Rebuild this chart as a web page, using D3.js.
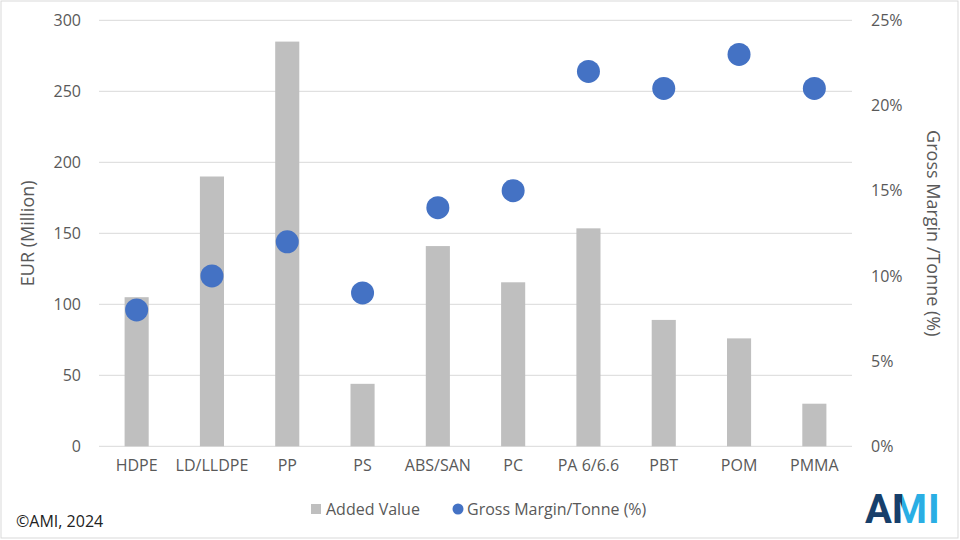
<!DOCTYPE html>
<html><head><meta charset="utf-8">
<script src="https://cdn.jsdelivr.net/npm/d3@7"></script>
<style>body{margin:0;background:#fff}svg{display:block;font-family:"Open Sans",sans-serif}</style>
</head><body>
<svg id="c" width="960" height="540"></svg>
<script>
const categories = ["HDPE","LD/LLDPE","PP","PS","ABS/SAN","PC","PA 6/6.6","PBT","POM","PMMA"];
const addedValue = [105,190,285,44,141,115.5,153.5,89,76,30];
const grossMargin = [0.08,0.10,0.12,0.09,0.14,0.15,0.22,0.21,0.23,0.21];
const leftTicks = [0,50,100,150,200,250,300];
const rightTicks = [0,0.05,0.10,0.15,0.20,0.25];

const svg = d3.select("#c");
const W=960,H=540;
const m={l:99,r:852,t:20.3,b:446.3};
const textColor="#595959";

svg.append("rect").attr("x",1).attr("y",1).attr("width",W-3).attr("height",H-3)
  .attr("fill","#fff").attr("stroke","#d9d9d9").attr("stroke-width",1);

const x=d3.scaleBand().domain(categories).range([m.l,m.r]).paddingInner(0.68).paddingOuter(0.34);
const yL=d3.scaleLinear().domain([0,300]).range([m.b,m.t]);
const yR=d3.scaleLinear().domain([0,0.25]).range([m.b,m.t]);

// gridlines
svg.append("g").selectAll("line").data(leftTicks).join("line")
  .attr("x1",m.l).attr("x2",m.r).attr("y1",d=>yL(d)).attr("y2",d=>yL(d))
  .attr("stroke","#d9d9d9").attr("stroke-width",1);

// left axis
const gl=svg.append("g").attr("transform",`translate(${m.l},0)`)
  .call(d3.axisLeft(yL).tickValues(leftTicks).tickSize(0).tickPadding(18));
gl.select(".domain").remove();
gl.selectAll("text").attr("fill",textColor).style("font-size","16px").style("font-family","'Open Sans',sans-serif");

// right axis
const gr=svg.append("g").attr("transform",`translate(${m.r},0)`)
  .call(d3.axisRight(yR).tickValues(rightTicks).tickSize(0).tickPadding(19).tickFormat(d3.format(".0%")));
gr.select(".domain").remove();
gr.selectAll("text").attr("fill",textColor).style("font-size","16px").style("font-family","'Open Sans',sans-serif");

// bottom axis
const gb=svg.append("g").attr("transform",`translate(0,${m.b})`)
  .call(d3.axisBottom(x).tickSize(0).tickPadding(13));
gb.select(".domain").remove();
gb.selectAll("text").attr("fill",textColor).style("font-size","16px").style("font-family","'Open Sans',sans-serif");

// bars
svg.append("g").selectAll("rect").data(categories).join("rect")
  .attr("x",d=>x(d)).attr("width",x.bandwidth())
  .attr("y",(d,i)=>yL(addedValue[i])).attr("height",(d,i)=>m.b-yL(addedValue[i]))
  .attr("fill","#bfbfbf");

// dots
svg.append("g").selectAll("circle").data(categories).join("circle")
  .attr("cx",d=>x(d)+x.bandwidth()/2).attr("cy",(d,i)=>yR(grossMargin[i]))
  .attr("r",11.5).attr("fill","#4472c4");

// axis titles
svg.append("text").attr("transform",`translate(34,${(m.t+m.b)/2}) rotate(-90)`)
  .attr("text-anchor","middle").attr("fill",textColor).style("font-size","18px").text("EUR (Million)");
svg.append("text").attr("transform",`translate(927,${(m.t+m.b)/2}) rotate(90)`)
  .attr("text-anchor","middle").attr("fill",textColor).style("font-size","18px").text("Gross Margin /Tonne (%)");

// legend
const lg=svg.append("g");
lg.append("rect").attr("x",311).attr("y",504).attr("width",10).attr("height",10).attr("fill","#bfbfbf");
lg.append("text").attr("x",326).attr("y",515).attr("fill",textColor).style("font-size","16px").text("Added Value");
lg.append("circle").attr("cx",458).attr("cy",509).attr("r",5.5).attr("fill","#4472c4");
lg.append("text").attr("x",467).attr("y",515).attr("fill",textColor).style("font-size","16px").text("Gross Margin/Tonne (%)");

// copyright
svg.append("text").attr("x",16).attr("y",527).attr("fill","#222").style("font-size","16px").text("©AMI, 2024");

// logo
const defs=svg.append("defs");
const grad=defs.append("linearGradient").attr("id","mg").attr("x1","0").attr("x2","1").attr("y1","0").attr("y2","0");
grad.append("stop").attr("offset","0.5").attr("stop-color","#173f6b");
grad.append("stop").attr("offset","0.5").attr("stop-color","#2aaee4");
const logo=svg.append("text").attr("x",865).attr("y",523)
  .style("font-family","Roboto,sans-serif").style("font-weight","700").style("font-size","40px");
logo.append("tspan").attr("fill","#173f6b").text("A");
logo.append("tspan").attr("fill","url(#mg)").text("M");
logo.append("tspan").attr("fill","#2aaee4").attr("dx",1).text("I");
</script>
</body></html>
